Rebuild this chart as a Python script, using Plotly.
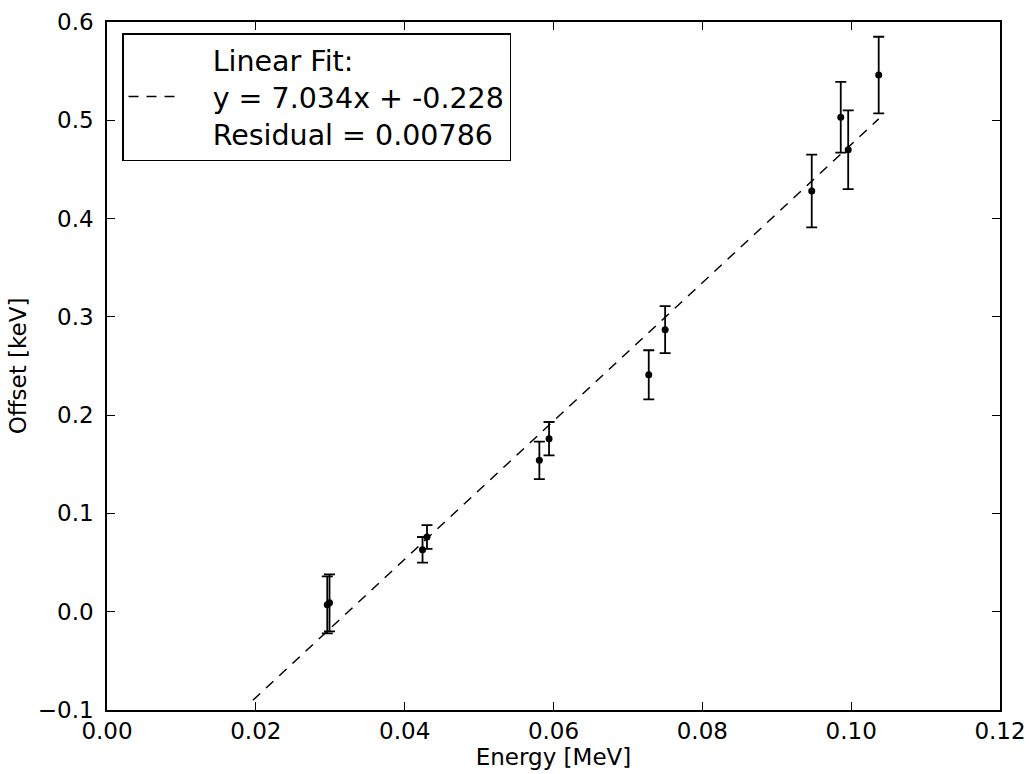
import plotly.graph_objects as go

# Data
energy = [0.0296, 0.0299, 0.0424, 0.0430, 0.0581, 0.0594, 0.0728, 0.0750, 0.0947, 0.0986, 0.0996, 0.1037]
offset = [0.007, 0.009, 0.063, 0.076, 0.154, 0.176, 0.241, 0.287, 0.428, 0.503, 0.470, 0.546]
offset_err = [0.029, 0.029, 0.013, 0.012, 0.019, 0.017, 0.025, 0.024, 0.037, 0.036, 0.040, 0.039]

slope = 7.034
intercept = -0.228
residual = 0.00786
fit_x = [0.0196, 0.1037]
fit_y = [slope * v + intercept for v in fit_x]

x_ticks = [0.00, 0.02, 0.04, 0.06, 0.08, 0.10, 0.12]
y_ticks = [-0.1, 0.0, 0.1, 0.2, 0.3, 0.4, 0.5, 0.6]

FONT = "DejaVu Sans"
pad = "&nbsp;" * 3
legend_text = "<br>".join(pad + s for s in [
    "Linear Fit:",
    f"y = {slope}x + {intercept}",
    f"Residual = {residual}",
])

fig = go.Figure()

fig.add_trace(go.Scatter(
    x=fit_x, y=fit_y, mode="lines",
    line=dict(color="black", width=1.5, dash="10px,8px"),
    name=legend_text,
    showlegend=True,
))

fig.add_trace(go.Scatter(
    x=energy, y=offset, mode="markers",
    marker=dict(color="black", size=7),
    error_y=dict(type="data", array=offset_err, visible=True,
                 color="black", thickness=1.8, width=5.5),
    showlegend=False,
))

axis_common = dict(
    showgrid=False, zeroline=False, automargin=False,
    showline=True, linecolor="black", linewidth=1.5, mirror="ticks",
    ticks="inside", ticklen=8, tickwidth=1, tickcolor="black",
    tickfont=dict(family=FONT, size=23, color="black"),
)

fig.update_xaxes(
    range=[0, 0.12], tickvals=x_ticks, tickformat=".2f",
    title=dict(text="Energy [MeV]", font=dict(family=FONT, size=23, color="black"), standoff=4),
    ticklabelstandoff=0,
    **axis_common,
)
fig.update_yaxes(
    range=[-0.1, 0.6], tickvals=y_ticks, tickformat=".1f",
    title=dict(text="Offset [keV]", font=dict(family=FONT, size=23, color="black"), standoff=5),
    ticklabelstandoff=7,
    **axis_common,
)

fig.update_layout(
    width=1029, height=774,
    margin=dict(l=107, r=29, t=22, b=64),
    paper_bgcolor="white", plot_bgcolor="white",
    font=dict(family=FONT, color="black"),
    legend=dict(
        x=0.0168, y=0.984, xanchor="left", yanchor="top",
        bgcolor="white", bordercolor="black", borderwidth=1.5,
        font=dict(family=FONT, size=28.5, color="black"),
        itemwidth=52,
    ),
)

fig.write_html("out.html")
